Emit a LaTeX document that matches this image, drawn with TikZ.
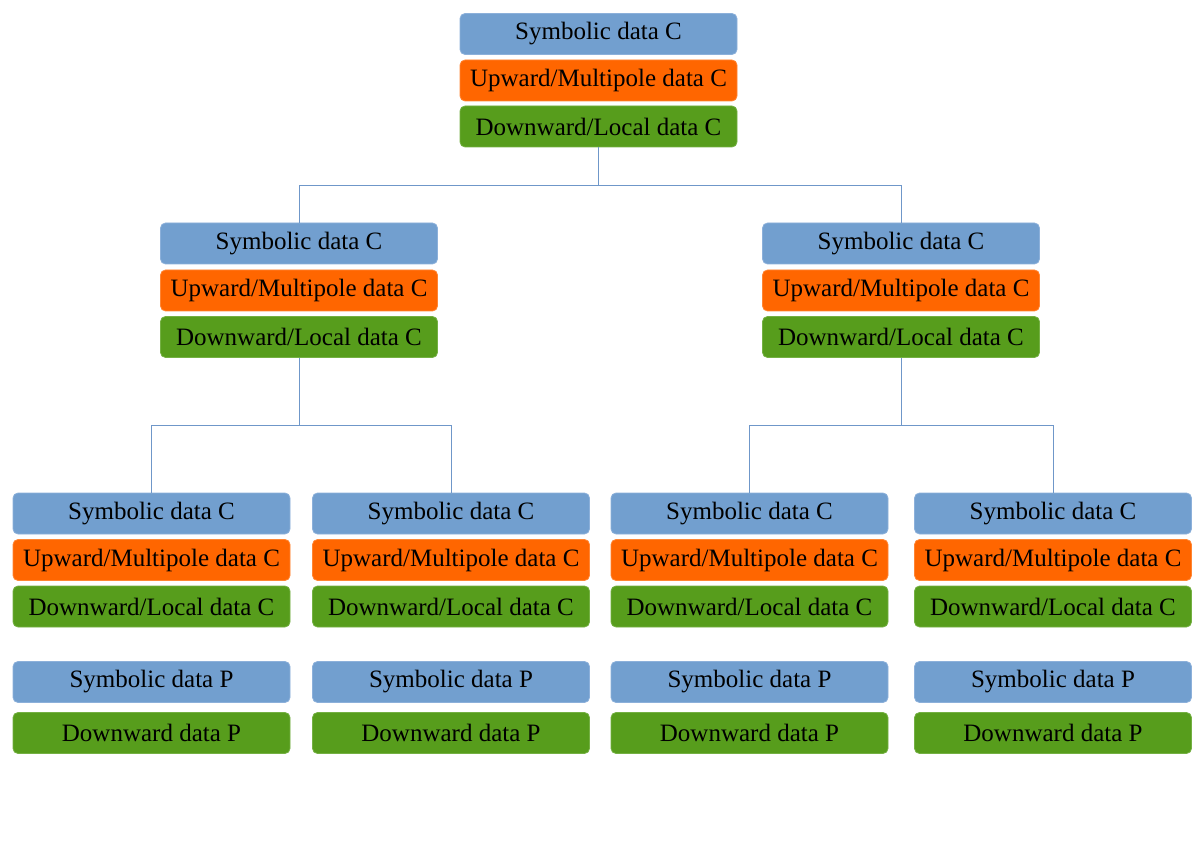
\documentclass[tikz,border=0pt]{standalone}
\usepackage{fontspec}
\setmainfont{Liberation Serif}
\definecolor{symb}{HTML}{729FCF}
\definecolor{symbd}{HTML}{8CB0DA}
\definecolor{upw}{HTML}{FF6600}
\definecolor{upwd}{HTML}{FF8533}
\definecolor{dnw}{HTML}{579D1C}
\definecolor{dnwd}{HTML}{74B043}
\definecolor{wire}{HTML}{6F97C9}
\tikzset{
  box/.style={rounded corners=5pt, minimum width=277pt, minimum height=41pt, inner sep=0pt,
    font=\fontsize{25}{25}\selectfont, text=black, line width=0.8pt},
  symbbox/.style={box, fill=symb, draw=symbd},
  upbox/.style={box, fill=upw, draw=upwd},
  downbox/.style={box, fill=dnw, draw=dnwd},
  wireline/.style={draw=wire, line width=0.7pt}
}
\begin{document}
\begin{tikzpicture}[x=1pt,y=-1pt]
\useasboundingbox (0,0) rectangle (1200,842);
% top
\node[symbbox] (t1) at (598.5,34) {Symbolic data C};
\node[upbox] (t2) at (598.5,80.5) {Upward/Multipole data C};
\node[downbox] (t3) at (598.5,126.5) {Downward/Local data C};
% level 2
\foreach \n/\x in {a/299,b/901}{
  \node[symbbox] (\n1) at (\x,243.5) {Symbolic data C};
  \node[upbox] (\n2) at (\x,290.5) {Upward/Multipole data C};
  \node[downbox] (\n3) at (\x,337) {Downward/Local data C};
}
% level 3
\foreach \n/\x in {c/151.5,d/451,e/749.5,f/1053}{
  \node[symbbox] (\n1) at (\x,513.5) {Symbolic data C};
  \node[upbox] (\n2) at (\x,560) {Upward/Multipole data C};
  \node[downbox] (\n3) at (\x,606.5) {Downward/Local data C};
  \node[symbbox] (\n4) at (\x,682) {Symbolic data P};
  \node[downbox] (\n5) at (\x,733) {Downward data P};
}
% connectors
\coordinate (j1) at (598.5,185);
\coordinate (j2) at (299,425);
\coordinate (j3) at (901,425);
\draw[wireline] (t3.south) -- (j1) -| (a1.north);
\draw[wireline] (j1) -| (b1.north);
\draw[wireline] (a3.south) -- (j2) -| (c1.north);
\draw[wireline] (j2) -| (d1.north);
\draw[wireline] (b3.south) -- (j3) -| (e1.north);
\draw[wireline] (j3) -| (f1.north);
\end{tikzpicture}
\end{document}
